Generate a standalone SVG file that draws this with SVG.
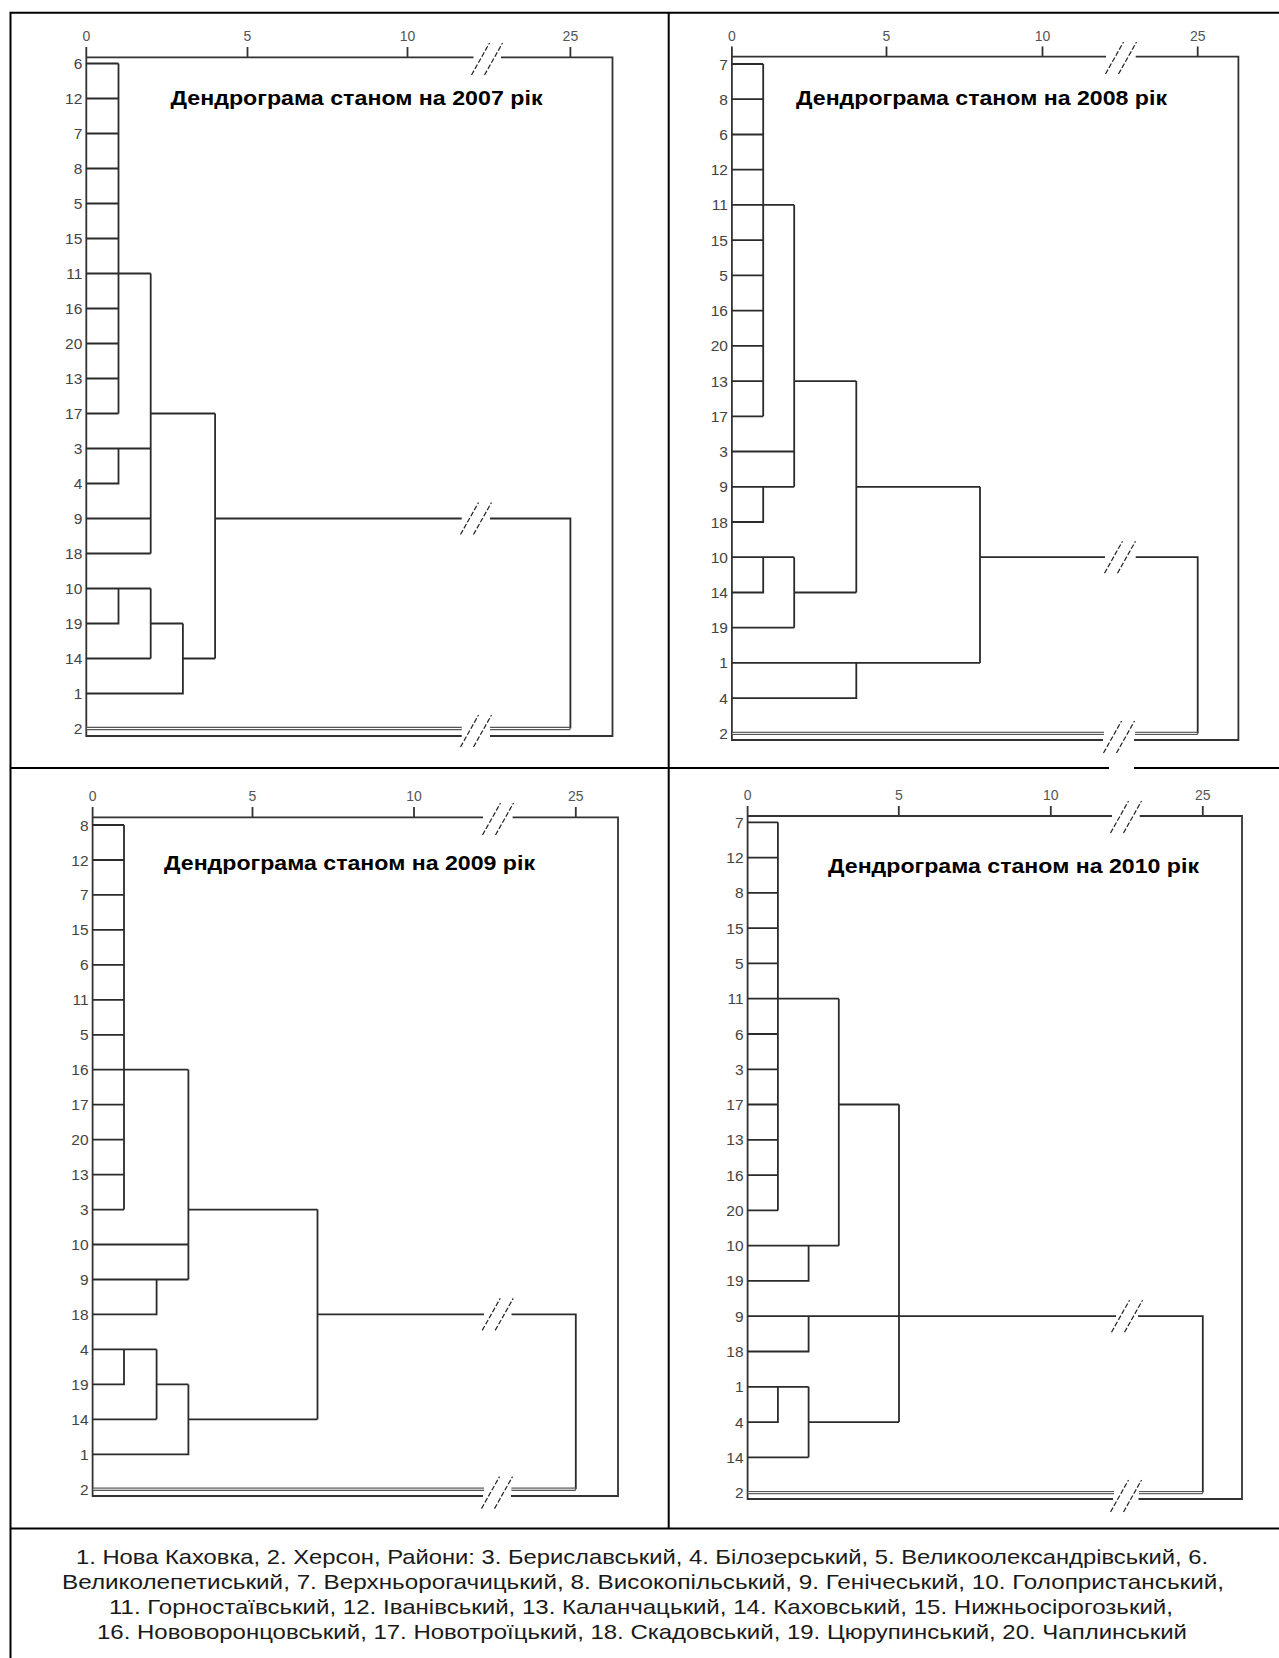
<svg xmlns="http://www.w3.org/2000/svg" width="1279" height="1658" viewBox="0 0 1279 1658">
<style>
.frame{fill:none;stroke:#000;stroke-width:2}
.ln{fill:none;stroke:#2b2b2b;stroke-width:1.8}
.ax{fill:none;stroke:#333;stroke-width:1.8}
.dblo{fill:none;stroke:#555;stroke-width:3.4}
.dbli{fill:none;stroke:#fff;stroke-width:1}
.brk{fill:none;stroke:#222;stroke-width:1.2;stroke-dasharray:5 2}
.lbl{font-family:"Liberation Sans",Arial,sans-serif;font-size:15.5px;fill:#444;text-anchor:end}
.tk{font-family:"Liberation Sans",Arial,sans-serif;font-size:14px;fill:#555;text-anchor:middle}
.title{font-family:"Liberation Sans",Arial,sans-serif;font-size:21px;font-weight:bold;fill:#000}
.leg{font-family:"Liberation Sans",Arial,sans-serif;font-size:21px;fill:#1a1a1a}
</style>
<defs>
<g id="slashes"><path class="brk" d="M-15.5 16L2.5 -16M-2.5 16L15.5 -16"/></g>
</defs>
<rect width="1279" height="1658" fill="#fff"/>

<g id="outer-frame">
<path class="frame" d="M10.5 1658V12.7H1279M668.7 12.7V1528.5M10.5 768H1109M1134 768H1279M10.5 1528.5H1279"/>
</g>

<!-- 2007 -->
<g id="panel-2007">
<g id="axis-2007">
<path class="ax" d="M86.3 47V736H461.7M490 736H612.5V57.3H501M473.5 57.3H86.3M247.5 47V57.3M407.5 47V57.3M570.4 47V57.3"/>
<text class="tk" x="86.3" y="41">0</text><text class="tk" x="247.5" y="41">5</text><text class="tk" x="407.5" y="41">10</text><text class="tk" x="570.4" y="41">25</text>
</g>
<text id="title-2007" class="title" x="170.5" y="105" textLength="372" lengthAdjust="spacingAndGlyphs">Дендрограма станом на 2007 рік</text>
<g id="leaves-2007">
<text class="lbl" x="82.3" y="69">6</text><text class="lbl" x="82.3" y="104">12</text><text class="lbl" x="82.3" y="139">7</text><text class="lbl" x="82.3" y="174">8</text><text class="lbl" x="82.3" y="209">5</text><text class="lbl" x="82.3" y="244">15</text><text class="lbl" x="82.3" y="279">11</text><text class="lbl" x="82.3" y="314">16</text><text class="lbl" x="82.3" y="349">20</text><text class="lbl" x="82.3" y="384">13</text><text class="lbl" x="82.3" y="419">17</text><text class="lbl" x="82.3" y="454">3</text><text class="lbl" x="82.3" y="489">4</text><text class="lbl" x="82.3" y="524">9</text><text class="lbl" x="82.3" y="559">18</text><text class="lbl" x="82.3" y="594">10</text><text class="lbl" x="82.3" y="629">19</text><text class="lbl" x="82.3" y="664">14</text><text class="lbl" x="82.3" y="699">1</text><text class="lbl" x="82.3" y="734">2</text>
</g>
<g id="connectors-2007">
<path class="ln" d="M86.3 63.5H118.5M86.3 98.5H118.5M86.3 133.5H118.5M86.3 168.5H118.5M86.3 203.5H118.5M86.3 238.5H118.5M86.3 273.5H118.5M86.3 308.5H118.5M86.3 343.5H118.5M86.3 378.5H118.5M86.3 413.5H118.5M118.5 63.5V413.5M118.5 273.5H150.7M86.3 448.5H150.7M86.3 483.5H118.5V448.5M86.3 518.5H150.7M86.3 553.5H150.7M150.7 273.5V553.5M150.7 413.5H215.1M86.3 588.5H150.7M86.3 623.5H118.5V588.5M86.3 658.5H150.7M150.7 588.5V658.5M150.7 623.5H182.9M86.3 693.5H182.9V623.5M182.9 658.5H215.1M215.1 413.5V658.5M215.1 518.5H461.7M490 518.5H570.4V728.5"/>
<path class="dblo" d="M86.3 728.5H461.7M490 728.5H570.4"/>
<path class="dbli" d="M87 728.5H461.7M490 728.5H569.5"/>
<use href="#slashes" x="487" y="59"/>
<use href="#slashes" x="476" y="518.5"/>
<use href="#slashes" x="476" y="731"/>
</g>
</g>

<!-- 2008 -->
<g id="panel-2008">
<g id="axis-2008">
<path class="ax" d="M731.9 46.5V740H1103M1134 740H1238.4V56.7H1135.7M1106 56.7H731.9M886.5 46.5V56.7M1042.5 46.5V56.7M1197.7 46.5V56.7"/>
<text class="tk" x="731.9" y="41">0</text><text class="tk" x="886.5" y="41">5</text><text class="tk" x="1042.5" y="41">10</text><text class="tk" x="1197.7" y="41">25</text>
</g>
<text id="title-2008" class="title" x="796" y="104.5" textLength="371" lengthAdjust="spacingAndGlyphs">Дендрограма станом на 2008 рік</text>
<g id="leaves-2008">
<text class="lbl" x="727.9" y="69.5">7</text><text class="lbl" x="727.9" y="104.7">8</text><text class="lbl" x="727.9" y="140">6</text><text class="lbl" x="727.9" y="175.2">12</text><text class="lbl" x="727.9" y="210.4">11</text><text class="lbl" x="727.9" y="245.7">15</text><text class="lbl" x="727.9" y="280.9">5</text><text class="lbl" x="727.9" y="316.1">16</text><text class="lbl" x="727.9" y="351.3">20</text><text class="lbl" x="727.9" y="386.6">13</text><text class="lbl" x="727.9" y="421.8">17</text><text class="lbl" x="727.9" y="457">3</text><text class="lbl" x="727.9" y="492.3">9</text><text class="lbl" x="727.9" y="527.5">18</text><text class="lbl" x="727.9" y="562.7">10</text><text class="lbl" x="727.9" y="598">14</text><text class="lbl" x="727.9" y="633.2">19</text><text class="lbl" x="727.9" y="668.4">1</text><text class="lbl" x="727.9" y="703.6">4</text><text class="lbl" x="727.9" y="738.9">2</text>
</g>
<g id="connectors-2008">
<path class="ln" d="M731.9 64H763.2M731.9 99.2H763.2M731.9 134.5H763.2M731.9 169.7H763.2M731.9 204.9H763.2M731.9 240.2H763.2M731.9 275.4H763.2M731.9 310.6H763.2M731.9 345.8H763.2M731.9 381.1H763.2M731.9 416.3H763.2M763.2 64V416.3M763.2 204.9H794.2M731.9 451.5H794.2M731.9 486.8H794.2M731.9 522H763.2V486.8M794.2 204.9V486.8M794.2 381.1H856.3M731.9 557.2H794.2M731.9 592.5H763.2V557.2M731.9 627.7H794.2M794.2 557.2V627.7M794.2 592.5H856.3M856.3 381.1V592.5M856.3 486.8H980M731.9 662.9H856.3M731.9 698.1H856.3V662.9M856.3 662.9H980M980 486.8V662.9M980 557.2H1105M1135.7 557.2H1197.7V733.4"/>
<path class="dblo" d="M731.9 733.4H1104M1135 733.4H1197.7"/>
<path class="dbli" d="M732.6 733.4H1104M1135 733.4H1196.8"/>
<use href="#slashes" x="1121" y="58"/>
<use href="#slashes" x="1120" y="557.2"/>
<use href="#slashes" x="1119" y="737"/>
</g>
</g>

<!-- 2009 -->
<g id="panel-2009">
<g id="axis-2009">
<path class="ax" d="M92.6 807V1496H483M511 1496H618V817.3H512.6M483 817.3H92.6M252.5 807V817.3M414 807V817.3M575.8 807V817.3"/>
<text class="tk" x="92.6" y="801">0</text><text class="tk" x="252.5" y="801">5</text><text class="tk" x="414" y="801">10</text><text class="tk" x="575.8" y="801">25</text>
</g>
<text id="title-2009" class="title" x="164" y="870" textLength="371" lengthAdjust="spacingAndGlyphs">Дендрограма станом на 2009 рік</text>
<g id="leaves-2009">
<text class="lbl" x="88.6" y="830.5">8</text><text class="lbl" x="88.6" y="865.5">12</text><text class="lbl" x="88.6" y="900.4">7</text><text class="lbl" x="88.6" y="935.4">15</text><text class="lbl" x="88.6" y="970.3">6</text><text class="lbl" x="88.6" y="1005.3">11</text><text class="lbl" x="88.6" y="1040.3">5</text><text class="lbl" x="88.6" y="1075.2">16</text><text class="lbl" x="88.6" y="1110.2">17</text><text class="lbl" x="88.6" y="1145.1">20</text><text class="lbl" x="88.6" y="1180.1">13</text><text class="lbl" x="88.6" y="1215.1">3</text><text class="lbl" x="88.6" y="1250">10</text><text class="lbl" x="88.6" y="1285">9</text><text class="lbl" x="88.6" y="1319.9">18</text><text class="lbl" x="88.6" y="1354.9">4</text><text class="lbl" x="88.6" y="1389.9">19</text><text class="lbl" x="88.6" y="1424.8">14</text><text class="lbl" x="88.6" y="1459.8">1</text><text class="lbl" x="88.6" y="1494.7">2</text>
</g>
<g id="connectors-2009">
<path class="ln" d="M92.6 825H124M92.6 860H124M92.6 894.9H124M92.6 929.9H124M92.6 964.8H124M92.6 999.8H124M92.6 1034.8H124M92.6 1069.7H124M92.6 1104.7H124M92.6 1139.6H124M92.6 1174.6H124M92.6 1209.6H124M124 825V1209.6M124 1069.7H188.4M92.6 1244.5H188.4M92.6 1279.5H188.4M92.6 1314.4H156.6V1279.5M188.4 1069.7V1279.5M188.4 1209.6H317.5M92.6 1349.4H156.6M92.6 1384.4H124V1349.4M92.6 1419.3H156.6M156.6 1349.4V1419.3M156.6 1384.4H188.4M92.6 1454.3H188.4V1384.4M188.4 1419.3H317.5M317.5 1209.6V1419.3M317.5 1314.4H484M511.5 1314.4H575.8V1489.2"/>
<path class="dblo" d="M92.6 1489.2H484M511.5 1489.2H575.8"/>
<path class="dbli" d="M93.3 1489.2H484M511.5 1489.2H574.9"/>
<use href="#slashes" x="498" y="819"/>
<use href="#slashes" x="497.7" y="1314.4"/>
<use href="#slashes" x="497" y="1492.6"/>
</g>
</g>

<!-- 2010 -->
<g id="panel-2010">
<g id="axis-2010">
<path class="ax" d="M747.6 806V1499H1113M1138.5 1499H1242V816H1139.7M1112 816H747.6M898.8 806V816M1050.8 806V816M1202.8 806V816"/>
<text class="tk" x="747.6" y="800">0</text><text class="tk" x="898.8" y="800">5</text><text class="tk" x="1050.8" y="800">10</text><text class="tk" x="1202.8" y="800">25</text>
</g>
<text id="title-2010" class="title" x="828" y="873" textLength="371" lengthAdjust="spacingAndGlyphs">Дендрограма станом на 2010 рік</text>
<g id="leaves-2010">
<text class="lbl" x="743.6" y="827.8">7</text><text class="lbl" x="743.6" y="863.1">12</text><text class="lbl" x="743.6" y="898.4">8</text><text class="lbl" x="743.6" y="933.6">15</text><text class="lbl" x="743.6" y="968.9">5</text><text class="lbl" x="743.6" y="1004.2">11</text><text class="lbl" x="743.6" y="1039.5">6</text><text class="lbl" x="743.6" y="1074.8">3</text><text class="lbl" x="743.6" y="1110">17</text><text class="lbl" x="743.6" y="1145.3">13</text><text class="lbl" x="743.6" y="1180.6">16</text><text class="lbl" x="743.6" y="1215.9">20</text><text class="lbl" x="743.6" y="1251.2">10</text><text class="lbl" x="743.6" y="1286.4">19</text><text class="lbl" x="743.6" y="1321.7">9</text><text class="lbl" x="743.6" y="1357">18</text><text class="lbl" x="743.6" y="1392.3">1</text><text class="lbl" x="743.6" y="1427.6">4</text><text class="lbl" x="743.6" y="1462.8">14</text><text class="lbl" x="743.6" y="1498.1">2</text>
</g>
<g id="connectors-2010">
<path class="ln" d="M747.6 822.3H777.9M747.6 857.6H777.9M747.6 892.9H777.9M747.6 928.1H777.9M747.6 963.4H777.9M747.6 998.7H777.9M747.6 1034H777.9M747.6 1069.3H777.9M747.6 1104.5H777.9M747.6 1139.8H777.9M747.6 1175.1H777.9M747.6 1210.4H777.9M777.9 822.3V1210.4M777.9 998.7H838.8M747.6 1245.7H838.8M747.6 1280.9H808.6V1245.7M838.8 998.7V1245.7M838.8 1104.5H899M747.6 1316.2H1116M1138 1316.2H1202.8V1492.6M747.6 1351.5H808.6V1316.2M747.6 1386.8H808.6M747.6 1422.1H777.9V1386.8M747.6 1457.3H808.6M808.6 1386.8V1457.3M808.6 1422.1H899M899 1104.5V1422.1"/>
<path class="dblo" d="M747.6 1492.6H1114M1139 1492.6H1202.8"/>
<path class="dbli" d="M748.3 1492.6H1114M1139 1492.6H1201.9"/>
<use href="#slashes" x="1126" y="817"/>
<use href="#slashes" x="1127" y="1316.2"/>
<use href="#slashes" x="1126" y="1496"/>
</g>
</g>

<g id="legend">
<text class="leg" x="76" y="1563.5" textLength="1132" lengthAdjust="spacingAndGlyphs">1. Нова Каховка, 2. Херсон, Райони: 3. Бериславський, 4. Білозерський, 5. Великоолександрівський, 6.</text>
<text class="leg" x="62" y="1589" textLength="1162" lengthAdjust="spacingAndGlyphs">Великолепетиський, 7. Верхньорогачицький, 8. Високопільський, 9. Генічеський, 10. Голопристанський,</text>
<text class="leg" x="109" y="1613.5" textLength="1064" lengthAdjust="spacingAndGlyphs">11. Горностаївський, 12. Іванівський, 13. Каланчацький, 14. Каховський, 15. Нижньосірогозький,</text>
<text class="leg" x="97" y="1638.5" textLength="1090" lengthAdjust="spacingAndGlyphs">16. Нововоронцовський, 17. Новотроїцький, 18. Скадовський, 19. Цюрупинський, 20. Чаплинський</text>
</g>
</svg>
